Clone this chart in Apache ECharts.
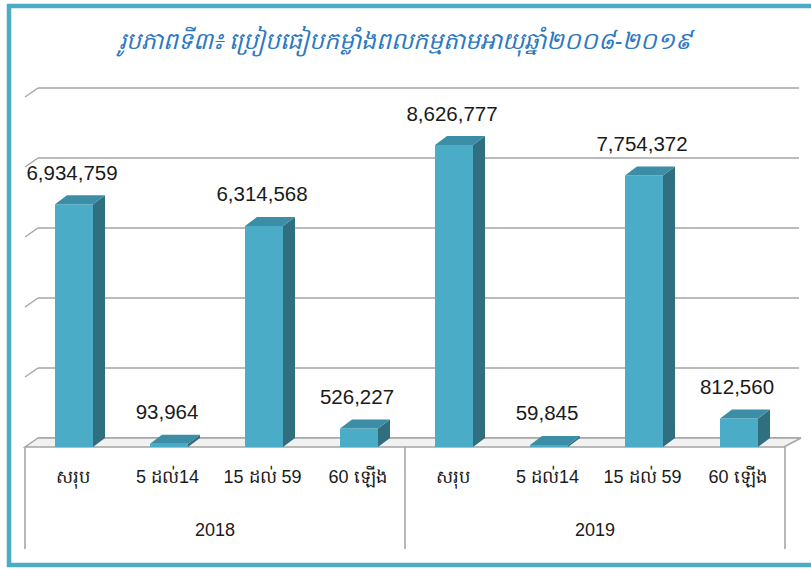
<!DOCTYPE html>
<html>
<head>
<meta charset="utf-8">
<script src="https://cdn.jsdelivr.net/npm/echarts@6/dist/echarts.min.js"></script>
<style>
html,body{margin:0;padding:0;background:#fff;}
#chart{width:811px;height:569px;}
</style>
</head>
<body>
<div id="chart"></div>
<script>
const titleText = 'រូបភាពទី៣៖ ប្រៀបធៀបកម្លាំងពលកម្មតាមអាយុឆ្នាំ២០០៨-២០១៩';
const categories = ['សរុប', '5 ដល់14', '15 ដល់ 59', '60 ឡើង'];
const years = ['2018', '2019'];
const values2018 = [6934759, 93964, 6314568, 526227];
const values2019 = [8626777, 59845, 7754372, 812560];
const yMin = 0, yMax = 10000000, yInterval = 2000000;

const xCats = years.flatMap(() => categories);
const barData = values2018.concat(values2019).map((v, i) => [i, v]);
const tickData = [];
for (let t = yMin; t <= yMax; t += yInterval) tickData.push([0, t]);

const DX = 13, DY = 9;
const fmt = v => v.toLocaleString('en-US');

const chart = echarts.init(document.getElementById('chart'), null, {renderer: 'svg'});
chart.setOption({
  backgroundColor: '#ffffff',
  animation: false,
  title: {
    text: titleText,
    left: 'center',
    top: 28,
    padding: [0, 0, 0, 26],
    textStyle: {fontSize: 23.5, fontStyle: 'italic', fontWeight: 'normal', color: '#2b78c2', fontFamily: 'Noto Sans'}
  },
  graphic: [{
    type: 'rect', silent: true, z: 100,
    shape: {x: 9, y: 6, width: 830, height: 559},
    style: {fill: 'none', stroke: '#4bacc6', lineWidth: 4.5}
  }],
  grid: [
    {left: 25, right: 26, top: 97, bottom: 122},
    {left: 38, right: 12, top: 88, bottom: 131}
  ],
  xAxis: [
    {
      type: 'category', gridIndex: 0, data: xCats, boundaryGap: true,
      axisLine: {show: false}, axisTick: {show: false},
      axisLabel: {margin: 21, fontSize: 18, color: '#1a1a1a', fontFamily: 'Liberation Sans', interval: 0}
    },
    {
      type: 'category', gridIndex: 0, data: years, boundaryGap: true, position: 'bottom',
      axisLine: {show: false},
      axisTick: {show: true, length: 102, lineStyle: {color: '#a0a0a0', width: 1.5}},
      axisLabel: {margin: 74, fontSize: 18, color: '#1a1a1a', fontFamily: 'Liberation Sans'}
    },
    {type: 'category', gridIndex: 1, data: xCats, show: false}
  ],
  yAxis: [
    {type: 'value', gridIndex: 0, min: yMin, max: yMax, interval: yInterval, show: false, splitLine: {show: false}},
    {
      type: 'value', gridIndex: 1, min: yMin, max: yMax, interval: yInterval,
      axisLine: {show: false}, axisTick: {show: false}, axisLabel: {show: false},
      splitLine: {show: true, lineStyle: {color: '#a5a5a5', width: 1.5}}
    }
  ],
  series: [
    {
      type: 'custom', xAxisIndex: 0, yAxisIndex: 0, z: 1, silent: true,
      data: tickData,
      renderItem: function (params, api) {
        const cs = params.coordSys;
        const v = api.value(1);
        const y = api.coord([0, v])[1];
        const x = cs.x;
        const children = [];
        if (v === yMin) {
          children.push({
            type: 'polygon',
            shape: {points: [[x, y], [x + DX, y - DY], [x + cs.width + 16, y - DY], [x + cs.width - 1, y]]},
            style: {fill: '#f1f1f1', stroke: '#a5a5a5', lineWidth: 1.5}
          });
        } else {
          children.push({
            type: 'line',
            shape: {x1: x, y1: y, x2: x + DX, y2: y - DY},
            style: {stroke: '#a5a5a5', lineWidth: 1.5}
          });
        }
        return {type: 'group', children: children};
      }
    },
    {
      type: 'custom', xAxisIndex: 0, yAxisIndex: 0, z: 3, silent: true,
      data: barData,
      renderItem: function (params, api) {
        const i = api.value(0), v = api.value(1);
        const base = api.coord([i, 0]);
        const top = api.coord([i, v]);
        const bw = api.size([1, 0])[0] * 0.4;
        const cx = top[0] + 1.5;
        const x0 = cx - bw / 2, x1 = cx + bw / 2;
        const dx = 12, dy = 9;
        return {
          type: 'group',
          children: [
            {type: 'rect', shape: {x: x0, y: top[1], width: bw, height: base[1] - top[1]},
              style: {fill: '#4aacc6'}},
            {type: 'polygon', shape: {points: [[x1, top[1]], [x1 + dx, top[1] - dy], [x1 + dx, base[1] - dy], [x1, base[1]]]},
              style: {fill: '#2f6f80'}},
            {type: 'polygon', shape: {points: [[x0, top[1]], [x0 + dx, top[1] - dy], [x1 + dx, top[1] - dy], [x1, top[1]]]},
              style: {fill: '#3b8ea5'}},
            {type: 'text', style: {text: fmt(v), x: cx - 2, y: top[1] - 32, align: 'center', verticalAlign: 'middle',
              fontSize: 20.5, fontFamily: 'Liberation Sans', fill: '#1a1a1a'}}
          ]
        };
      }
    }
  ]
});
</script>
</body>
</html>
